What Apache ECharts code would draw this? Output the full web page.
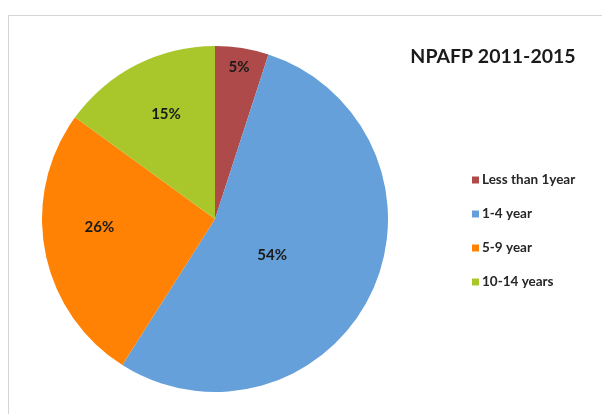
<!DOCTYPE html>
<html>
<head>
<meta charset="utf-8">
<script src="https://cdn.jsdelivr.net/npm/echarts@6/dist/echarts.min.js"></script>
<style>
  html, body { margin: 0; padding: 0; background: #fff; }
  #frame { position: absolute; left: 8px; top: 15px; width: 700px; height: 500px;
           border-left: 1px solid #d4d4d4; border-top: 1px solid #d4d4d4; box-sizing: border-box; }
  #chart { position: absolute; left: 0; top: 0; width: 602px; height: 414px; }
</style>
</head>
<body>
<div id="frame"></div>
<div id="chart"></div>
<script>
// Age groups of NPAFP cases, 2011-2015 (percent share)
const categories = ['Less than 1year', '1-4 year', '5-9 year', '10-14 years'];
const shares = [5, 54, 26, 15];
const colors = ['#AE4A49', '#66A0DA', '#FF8205', '#A9C62B'];
// percentage label placement: depth as a fraction of the radius, and a small turn (degrees) from the slice middle
const labelDepth = [0.89, 0.39, 0.67, 0.67];
const labelTurn = [0, 7, 7, 2];

const cx = 215, cy = 219, radius = 173;

const chart = echarts.init(document.getElementById('chart'), null, { renderer: 'canvas' });

const total = shares.reduce((a, b) => a + b, 0);
const midAngles = [];
let acc = 0;
shares.forEach(v => { midAngles.push((acc + v / 2) / total * 2 * Math.PI); acc += v; });

chart.setOption({
  animation: false,
  title: {
    text: 'NPAFP 2011-2015',
    left: 488, top: 42, textAlign: 'center',
    textStyle: { fontFamily: 'Lato', fontWeight: 'bold', fontSize: 19.5, color: '#1a1a1a' }
  },
  legend: {
    orient: 'vertical',
    left: 472, top: 173, padding: 0,
    itemWidth: 7, itemHeight: 7, itemGap: 20,
    icon: 'rect',
    textStyle: { fontFamily: 'Lato', fontWeight: 'bold', fontSize: 13.5, color: '#262626', padding: [0, 0, 0, -2] },
    data: categories
  },
  series: [{
    type: 'pie',
    center: [cx, cy],
    radius: radius,
    startAngle: 90,
    clockwise: true,
    avoidLabelOverlap: false,
    label: {
      show: true, position: 'inside',
      formatter: p => p.value + '%',
      fontFamily: 'Lato', fontWeight: 'bold', fontSize: 15, color: '#1a1a1a'
    },
    labelLine: { show: false },
    emphasis: { disabled: true },
    labelLayout: p => {
      const a = midAngles[p.dataIndex] + labelTurn[p.dataIndex] * Math.PI / 180;
      const d = labelDepth[p.dataIndex] * radius;
      return { x: cx + d * Math.sin(a), y: cy - d * Math.cos(a), align: 'center', verticalAlign: 'middle' };
    },
    data: categories.map((name, i) => ({ name, value: shares[i], itemStyle: { color: colors[i] } }))
  }]
});
</script>
</body>
</html>
